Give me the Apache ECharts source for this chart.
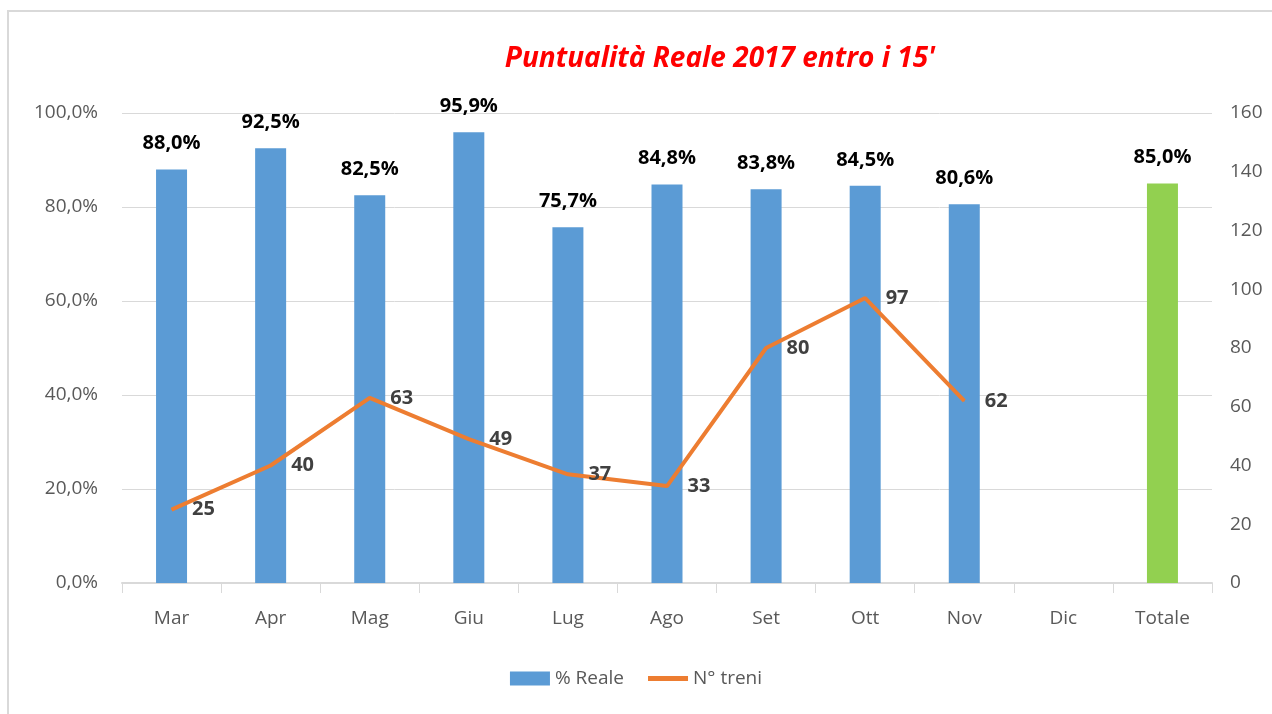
<!DOCTYPE html>
<html>
<head>
<meta charset="utf-8">
<script src="https://cdn.jsdelivr.net/npm/echarts@6/dist/echarts.min.js"></script>
<style>
  html, body { margin: 0; padding: 0; background: #fff; }
  #frame { position: absolute; left: 7px; top: 10px; width: 1275px; height: 720px; border: 2px solid #d9d9d9; box-sizing: border-box; }
  #chart { position: absolute; left: 0; top: 0; width: 1272px; height: 714px; }
</style>
</head>
<body>
<div id="frame"></div>
<div id="chart"></div>
<script>
// dati del grafico
var categorie = ['Mar', 'Apr', 'Mag', 'Giu', 'Lug', 'Ago', 'Set', 'Ott', 'Nov', 'Dic', 'Totale'];
var percReale = [88.0, 92.5, 82.5, 95.9, 75.7, 84.8, 83.8, 84.5, 80.6, null, 85.0];
var numTreni = [25, 40, 63, 49, 37, 33, 80, 97, 62, null, null];

var fontName = '"Open Sans", "Noto Sans", sans-serif';
var chart = echarts.init(document.getElementById('chart'));

var barData = percReale.map(function (v, i) {
  if (categorie[i] == 'Totale') {
    return { value: v, itemStyle: { color: '#92D050' } };
  }
  return v;
});

function fmtPerc(v) {
  return v.toFixed(1).replace('.', ',') + '%';
}

var option = {
  animation: false,
  title: {
    text: "Puntualità Reale 2017 entro i 15'",
    left: 715,
    textAlign: 'center',
    top: 40,
    textStyle: {
      color: '#FF0000',
      fontStyle: 'italic',
      fontWeight: 'bold',
      fontSize: 28,
      fontFamily: fontName
    }
  },
  legend: {
    data: [
      { name: '% Reale', icon: 'rect' },
      { name: 'N° treni', icon: 'path://M0,0 H40 V5 H0 Z' }
    ],
    left: 'center',
    top: 664,
    itemWidth: 40,
    itemHeight: 14,
    itemGap: 24,
    textStyle: { color: '#595959', fontSize: 19, fontFamily: fontName }
  },
  grid: { left: 122, right: 60, top: 113, bottom: 131 },
  xAxis: {
    type: 'category',
    data: categorie,
    axisLine: { lineStyle: { color: '#d9d9d9', width: 2 } },
    axisTick: { show: true, length: 10, lineStyle: { color: '#d9d9d9' } },
    axisLabel: { color: '#595959', fontSize: 19, margin: 26, fontFamily: fontName }
  },
  yAxis: [{
    type: 'value',
    min: 0,
    max: 100,
    interval: 20,
    axisLine: { show: false },
    axisTick: { show: false },
    splitLine: { lineStyle: { color: '#d9d9d9', width: 1 } },
    axisLabel: {
      color: '#595959', fontSize: 19, margin: 24, fontFamily: fontName,
      formatter: fmtPerc
    }
  }, {
    type: 'value',
    min: 0,
    max: 160,
    interval: 20,
    axisLine: { show: false },
    axisTick: { show: false },
    splitLine: { show: false },
    axisLabel: { color: '#595959', fontSize: 19, margin: 18, fontFamily: fontName }
  }],
  series: [{
    name: '% Reale',
    type: 'bar',
    data: barData,
    barWidth: 31,
    itemStyle: { color: '#5B9BD5' },
    label: {
      show: true,
      position: 'top',
      distance: 16,
      color: '#000',
      fontWeight: 'bold',
      fontSize: 20,
      fontFamily: fontName,
      formatter: function (p) { return fmtPerc(p.value); }
    }
  }, {
    name: 'N° treni',
    type: 'line',
    yAxisIndex: 1,
    data: numTreni,
    showSymbol: true,
    symbol: 'circle',
    symbolSize: 1,
    lineStyle: { color: '#ED7D31', width: 4 },
    itemStyle: { color: '#ED7D31' },
    label: {
      show: true,
      position: 'right',
      distance: 20,
      color: '#404040',
      fontWeight: 'bold',
      fontSize: 20,
      fontFamily: fontName
    }
  }]
};

chart.setOption(option);
</script>
</body>
</html>
